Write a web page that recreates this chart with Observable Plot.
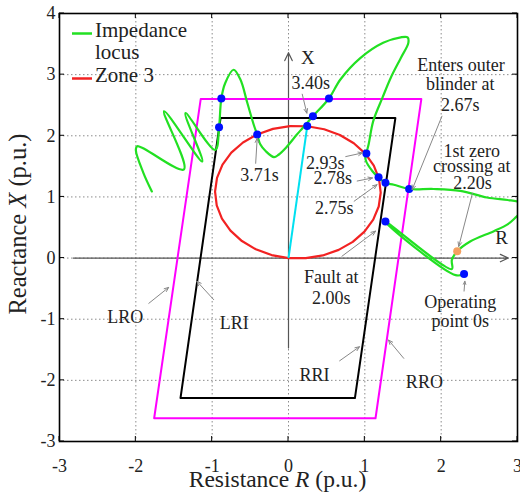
<!DOCTYPE html>
<html><head><meta charset="utf-8">
<script src="https://cdn.jsdelivr.net/npm/d3@7"></script>
<script src="https://cdn.jsdelivr.net/npm/@observablehq/plot@0.6"></script>
<style>body{margin:0;background:#fff} svg{display:block}</style>
</head><body><div id="chart"></div>
<script>
// ---- tick values ----
const xTicks = [-3, -2, -1, 0, 1, 2, 3];
const yTicks = [-3, -2, -1, 0, 1, 2, 3, 4];

// ---- impedance locus (R, X in p.u.), in time order ----
const locusR = [2.30, 2.19, 1.30, 1.27, 2.14, 2.14, 2.21, 2.38, 2.69, 2.87, 3.01, 3.15, 3.01, 2.87, 2.60, 2.25, 1.90, 1.58, 1.38, 1.27,
  1.18, 1.10, 1.01, 1.02, 1.05, 1.11, 1.23, 1.34, 1.47, 1.57, 1.56, 1.47, 1.24, 0.94, 0.68, 0.53, 0.32, 0.18, 0.11, -0.03,
  -0.13, -0.19, -0.30, -0.37, -0.41, -0.45, -0.54, -0.63, -0.72, -0.83, -0.88, -0.91, -0.96, -1.35, -1.13, -1.63, -1.37, -1.98, -2.00, -1.90, -1.79];
const locusX = [-0.26, -0.28, 0.55, 0.60, -0.18, -0.03, 0.11, 0.27, 0.44, 0.55, 0.70, 0.82, 0.92, 0.95, 0.99, 1.10, 1.13, 1.13, 1.20, 1.23,
  1.32, 1.42, 1.61, 1.71, 1.86, 2.24, 2.62, 2.95, 3.27, 3.52, 3.61, 3.61, 3.52, 3.27, 2.92, 2.61, 2.32, 2.12, 2.02, 1.81,
  1.69, 1.65, 1.75, 1.86, 2.02, 2.16, 2.54, 2.92, 3.08, 2.86, 2.61, 2.14, 1.77, 2.37, 1.58, 2.40, 1.45, 1.83, 1.77, 1.39, 1.09];

// ---- marked instants (blue dots) ----
const eventR = [2.30, 1.27, 1.58, 1.27, 1.18, 1.02, 0.53, 0.32, 0.245, -0.41, -0.88, -0.91];
const eventX = [-0.26, 0.60, 1.13, 1.23, 1.32, 1.71, 2.61, 2.32, 2.16, 2.02, 2.61, 2.14];
// 1st zero crossing (orange dot)
const zeroR = [2.21];
const zeroX = [0.11];

// ---- blinders ----
const outerR = [-1.15, 1.74, 1.14, -1.76, -1.15];
const outerX = [2.60, 2.60, -2.62, -2.62, 2.60];
const innerR = [-0.89, 1.40, 0.87, -1.415, -0.89];
const innerX = [2.29, 2.29, -2.29, -2.29, 2.29];

// ---- zone 3 mho characteristic: reach and angle ----
const zone3Reach = 2.17;
const zone3AngleDeg = 83.5;
const zone3Segments = 30;

// ---- annotations ----
const noteText = ["Enters outer", "blinder at", "2.67s", "1st zero", "crossing at", "2.20s", "3.40s", "2.93s", "2.78s", "2.75s",
  "3.71s", "Fault at", "2.00s", "Operating", "point 0s", "LRO", "LRI", "RRI", "RRO"];
const noteR = [2.26, 2.25, 2.25, 2.40, 2.40, 2.41, 0.29, 0.48, 0.58, 0.60, -0.38, 0.56, 0.56, 2.25, 2.25, -2.14, -0.71, 0.34, 1.78];
const noteX = [3.15, 2.84, 2.50, 1.75, 1.50, 1.22, 2.86, 1.55, 1.30, 0.81, 1.35, -0.31, -0.66, -0.72, -1.04, -0.97, -1.07, -1.92, -2.03];

const pointerR1 = [0.18, 2.01, 2.41, 0.75, 0.90, 0.86, -0.43, 0.70, 2.30, -1.83, -0.98, 0.67, 1.51];
const pointerX1 = [2.68, 2.32, 1.06, 1.66, 1.26, 0.93, 1.55, 0.03, -0.54, -0.74, -0.68, -1.68, -1.64];
const pointerR2 = [0.24, 1.62, 2.23, 0.97, 1.10, 1.16, -0.41, 1.14, 2.31, -1.57, -1.20, 0.93, 1.31];
const pointerX2 = [2.37, 1.12, 0.19, 1.72, 1.31, 1.20, 1.96, 0.44, -0.38, -0.48, -0.38, -1.45, -1.34];

// ---- axis arrows drawn inside the plane ----
const axisNames = ["X", "R"];
const axisR1 = [0, -2.82], axisX1 = [-1.47, 0];
const axisR2 = [0, 2.88], axisX2 = [3.36, 0];
const axisNameR = [0.255, 2.79], axisNameX = [3.28, 0.33];

const legendLabels = ["Impedance\nlocus", "Zone 3"];

// ---- build tables ----
const locus = locusR.map((r, i) => ({r, x: locusX[i]}));
const events = eventR.map((r, i) => ({r, x: eventX[i]}));
const zero = zeroR.map((r, i) => ({r, x: zeroX[i]}));
const outer = outerR.map((r, i) => ({r, x: outerX[i]}));
const inner = innerR.map((r, i) => ({r, x: innerX[i]}));
const th = zone3AngleDeg * Math.PI / 180;
const cR = zone3Reach / 2 * Math.cos(th), cX = zone3Reach / 2 * Math.sin(th), rad = zone3Reach / 2;
const zone3 = d3.range(zone3Segments + 1).map(k => {
  const a = th + Math.PI + 2 * Math.PI * k / zone3Segments;
  return {r: cR + rad * Math.cos(a), x: cX + rad * Math.sin(a)};
});
const diameter = [{r1: 0, x1: 0, r2: zone3Reach * Math.cos(th), x2: zone3Reach * Math.sin(th)}];
const notes = noteText.map((t, i) => ({t, r: noteR[i], x: noteX[i]}));
const pointers = pointerR1.map((r, i) => ({r1: r, x1: pointerX1[i], r2: pointerR2[i], x2: pointerX2[i]}));
const axes = axisNames.map((n, i) => ({n, r1: axisR1[i], x1: axisX1[i], r2: axisR2[i], x2: axisX2[i], nr: axisNameR[i], nx: axisNameX[i]}));

// ---- layout ----
const W = 520, H = 501, ML = 59, MR = 3, MT = 13, MB = 60;
const GREEN = "#22e022", RED = "#f22222";
const FONT = "'Liberation Serif', 'Times New Roman', serif";

function decorations() {
  const xs = d3.scaleLinear([-3, 3], [ML, W - MR]);
  const ys = d3.scaleLinear([-3, 4], [H - MB, MT]);
  const g = d3.create("svg:g").attr("font-family", FONT).attr("fill", "#222");
  // inward ticks
  for (const t of xTicks) {
    g.append("line").attr("x1", xs(t)).attr("x2", xs(t)).attr("y1", H - MB).attr("y2", H - MB - 5).attr("stroke", "#000");
    g.append("line").attr("x1", xs(t)).attr("x2", xs(t)).attr("y1", MT).attr("y2", MT + 5).attr("stroke", "#000");
  }
  for (const t of yTicks) {
    g.append("line").attr("y1", ys(t)).attr("y2", ys(t)).attr("x1", ML).attr("x2", ML + 5).attr("stroke", "#000");
    g.append("line").attr("y1", ys(t)).attr("y2", ys(t)).attr("x1", W - MR).attr("x2", W - MR - 5).attr("stroke", "#000");
  }
  // legend
  const colors = [GREEN, RED];
  const rowY = [33.5, 78.5];
  legendLabels.forEach((lab, i) => {
    g.append("line").attr("x1", ML + 13).attr("x2", ML + 33).attr("y1", rowY[i]).attr("y2", rowY[i])
      .attr("stroke", colors[i]).attr("stroke-width", 2.5);
    lab.split("\n").forEach((l, j) => {
      g.append("text").attr("x", ML + 36).attr("y", rowY[i] + 3.5 + j * 21.5)
        .attr("font-size", 21).attr("text-anchor", "start").text(l);
    });
  });
  // x axis label
  const xl = g.append("text").attr("x", 277.5).attr("y", H - 14).attr("font-size", 23.5).attr("text-anchor", "middle");
  xl.append("tspan").text("Resistance ");
  xl.append("tspan").attr("font-style", "italic").text("R");
  xl.append("tspan").text(" (p.u.)");
  // y axis label
  const yl = g.append("text").attr("transform", `translate(26,${(MT + H - MB) / 2 - 3}) rotate(-90)`).attr("font-size", 24.5).attr("text-anchor", "middle");
  yl.append("tspan").text("Reactance ");
  yl.append("tspan").attr("font-style", "italic").text("X");
  yl.append("tspan").text(" (p.u.)");
  return g.node();
}

const chart = Plot.plot({
  width: W, height: H,
  marginLeft: ML, marginRight: MR, marginTop: MT, marginBottom: MB,
  x: {domain: [-3, 3], ticks: xTicks},
  y: {domain: [-3, 4], ticks: yTicks},
  style: {fontFamily: FONT, fontSize: "18px", background: "#fff", color: "#222"},
  marks: [
    Plot.gridX(xTicks, {stroke: "#8c8c8c", strokeOpacity: 1, strokeDasharray: "1.5,2.5", strokeWidth: 1}),
    Plot.gridY(yTicks, {stroke: "#8c8c8c", strokeOpacity: 1, strokeDasharray: "1.5,2.5", strokeWidth: 1}),
    Plot.axisX(xTicks, {tickSize: 0, tickPadding: 18, label: null, fontSize: 18, tickFormat: d => String(d)}),
    Plot.axisY(yTicks, {tickSize: 0, tickPadding: 4, label: null, fontSize: 18, tickFormat: d => String(d)}),
    Plot.arrow(axes, {x1: "r1", y1: "x1", x2: "r2", y2: "x2", stroke: "#555", strokeWidth: 1.2, headLength: 11, headAngle: 50}),
    Plot.text(axes, {x: "nr", y: "nx", text: "n", fontSize: 19, fill: "#222"}),
    Plot.line(outer, {x: "r", y: "x", stroke: "#ff00ff", strokeWidth: 2}),
    Plot.line(inner, {x: "r", y: "x", stroke: "#000", strokeWidth: 2}),
    Plot.line(zone3, {x: "r", y: "x", stroke: RED, strokeWidth: 2.2}),
    Plot.link(diameter, {x1: "r1", y1: "x1", x2: "r2", y2: "x2", stroke: "#00e0f0", strokeWidth: 2}),
    Plot.line(locus, {x: "r", y: "x", stroke: GREEN, strokeWidth: 2.2, curve: "catmull-rom", clip: "frame"}),
    Plot.dot(events, {x: "r", y: "x", r: 4, fill: "#0010ff", stroke: "none"}),
    Plot.dot(zero, {x: "r", y: "x", r: 4, fill: "#f4a060", stroke: "none"}),
    Plot.arrow(pointers, {x1: "r1", y1: "x1", x2: "r2", y2: "x2", stroke: "#888", strokeWidth: 1, headLength: 7, headAngle: 45}),
    Plot.text(notes, {x: "r", y: "x", text: "t", fontSize: 18, fill: "#222"}),
    Plot.frame({stroke: "#000", strokeWidth: 1.6}),
    decorations
  ]
});
document.getElementById("chart").appendChild(chart);
</script>
</body></html>
